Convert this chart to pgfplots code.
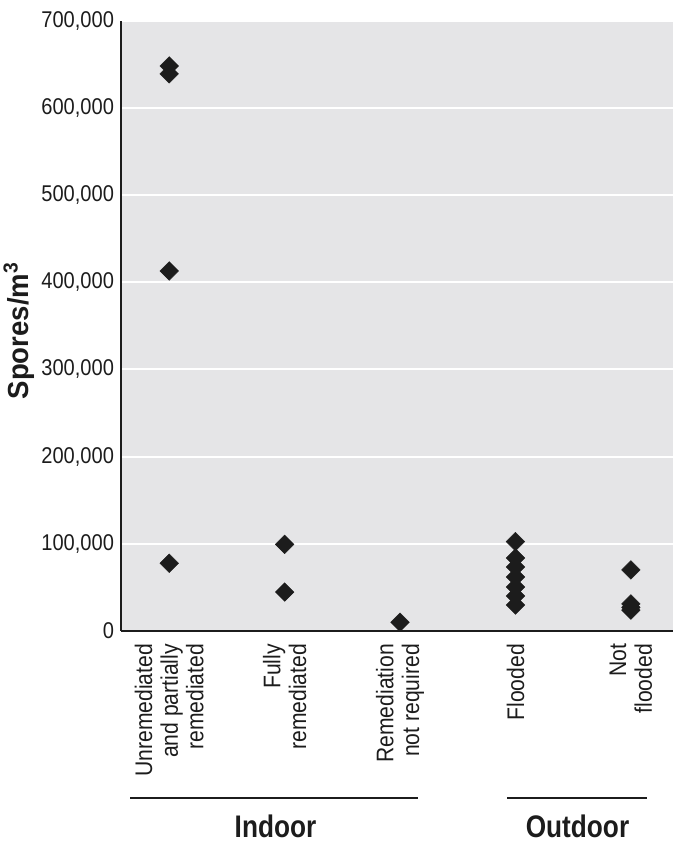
\documentclass[border=0pt]{standalone}
\usepackage{fontspec}
\setmainfont{Liberation Sans}[FakeStretch=0.88]
\newfontfamily\headfont{Liberation Sans}[FakeStretch=0.84]
\newfontfamily\ylabfont{Liberation Sans}[FakeStretch=0.95]
\usepackage{pgfplots}
\pgfplotsset{compat=1.18}
\definecolor{panel}{HTML}{E5E5E7}
\definecolor{ink}{HTML}{1C1C1C}

\begin{document}
\begin{tikzpicture}
% canvas: 1 px of the reference = 0.5pt
\useasboundingbox (-60.5pt,-107pt) rectangle (279pt,315.5pt);
\begin{axis}[
 at={(0,0)}, anchor=south west,
 width=276pt, height=305.15pt, scale only axis,
 xmin=-0.418, xmax=4.365, ymin=0, ymax=700000,
 axis background/.style={fill=panel},
 axis x line*=bottom, axis y line*=left,
 axis line style={ink, line width=1pt},
 major tick length=0pt,
 ymajorgrids, grid style={white, line width=1pt},
 ytick={0,100000,...,700000},
 scaled y ticks=false,
 yticklabel style={/pgf/number format/.cd, fixed, 1000 sep={,}, assume math mode=true},
 tick label style={text=ink, font=\fontsize{11.4}{12.5}\selectfont},
 xtick={0,1,2,3,4},
 xticklabels={{Unremediated\\and partially\\remediated},{Fully\\remediated},{Remediation\\not required},{Flooded},{Not\\flooded}},
 xticklabel style={rotate=90, anchor=east, align=right, font=\fontsize{12}{12.8}\selectfont},
 xticklabel shift=3pt,
 ylabel={Spores/m\textsuperscript{3}},
 ylabel style={font=\ylabfont\bfseries\fontsize{14.5}{16}\selectfont, text=ink,
   at={(axis description cs:-0.185,0.492)}, anchor=center},
 clip=false,
]
\addplot[only marks, mark=square*, mark size=3.3pt,
  mark options={rotate=45, fill=ink, draw=ink, line width=0.2pt}]
 coordinates {
 (0,648000) (0,639000) (0,413000) (0,77600)
 (1,99400) (1,44700)
 (2,10000)
 (3,102500) (3,83700) (3,73400) (3,61900) (3,50500) (3,40100) (3,29800)
 (4,70000) (4,31000) (4,27000) (4,24000)
 };
\end{axis}
% group brackets below the category labels
\draw[ink, line width=0.8pt] (4.5pt,-83.5pt) -- (148.5pt,-83.5pt);
\draw[ink, line width=0.8pt] (193pt,-83.5pt) -- (263pt,-83.5pt);
\node[anchor=base, text=ink, font=\headfont\bfseries\fontsize{15.6}{18}\selectfont] at (77.25pt,-103.25pt) {Indoor};
\node[anchor=base, text=ink, font=\headfont\bfseries\fontsize{15.6}{18}\selectfont] at (228.25pt,-103.25pt) {Outdoor};
\end{tikzpicture}
\end{document}
